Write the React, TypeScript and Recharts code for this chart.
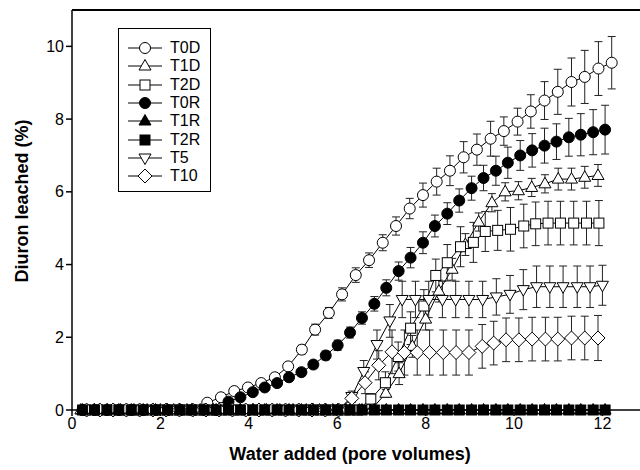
import React from "react";
import {
  LineChart,
  Line,
  XAxis,
  YAxis,
  ErrorBar,
  Legend,
  Label,
  ReferenceLine,
} from "recharts";

const FONT = "'Liberation Sans', Arial, Helvetica, sans-serif";

// pore volumes (x) per column set
const pvT0D = [0.32, 0.62, 0.93, 1.23, 1.54, 1.84, 2.15, 2.45, 2.76, 3.06, 3.37, 3.67, 3.98, 4.28, 4.59, 4.89, 5.2, 5.5, 5.81, 6.11, 6.42, 6.72, 7.03, 7.33, 7.64, 7.94, 8.25, 8.55, 8.86, 9.16, 9.47, 9.77, 10.08, 10.38, 10.69, 10.99, 11.3, 11.6, 11.91, 12.21];
const pvR = [0.24, 0.51, 0.79, 1.06, 1.34, 1.61, 1.89, 2.16, 2.44, 2.71, 2.99, 3.26, 3.54, 3.81, 4.09, 4.36, 4.64, 4.91, 5.19, 5.46, 5.74, 6.01, 6.29, 6.56, 6.84, 7.11, 7.39, 7.66, 7.94, 8.21, 8.49, 8.76, 9.04, 9.31, 9.59, 9.86, 10.14, 10.41, 10.69, 10.96, 11.24, 11.51, 11.79, 12.06];
const pvT1D = [0.2, 0.5, 0.8, 1.1, 1.4, 1.7, 2.0, 2.3, 2.6, 2.9, 3.2, 3.5, 3.8, 4.1, 4.4, 4.7, 5.0, 5.3, 5.6, 5.9, 6.2, 6.5, 6.8, 7.1, 7.4, 7.7, 8.0, 8.3, 8.6, 8.9, 9.2, 9.5, 9.8, 10.1, 10.4, 10.7, 11.0, 11.3, 11.6, 11.9];
const pvT2D = [0.3, 0.58, 0.86, 1.14, 1.42, 1.7, 1.98, 2.26, 2.54, 2.82, 3.1, 3.38, 3.66, 3.94, 4.22, 4.5, 4.78, 5.06, 5.34, 5.62, 5.9, 6.18, 6.46, 6.76, 7.09, 7.38, 7.66, 7.96, 8.23, 8.49, 8.79, 9.08, 9.35, 9.63, 9.92, 10.22, 10.49, 10.77, 11.05, 11.35, 11.64, 11.92];
const pvT5 = [0.33, 0.63, 0.93, 1.23, 1.53, 1.83, 2.13, 2.43, 2.73, 3.03, 3.33, 3.63, 3.93, 4.23, 4.53, 4.83, 5.13, 5.43, 5.73, 6.03, 6.33, 6.6, 6.9, 7.19, 7.47, 7.77, 8.07, 8.38, 8.68, 8.98, 9.29, 9.6, 9.91, 10.21, 10.51, 10.81, 11.11, 11.43, 11.72, 12.0];
const pvT10 = [0.33, 0.63, 0.93, 1.23, 1.53, 1.83, 2.13, 2.43, 2.73, 3.03, 3.33, 3.63, 3.93, 4.23, 4.53, 4.83, 5.13, 5.43, 5.73, 6.03, 6.33, 6.63, 6.94, 7.24, 7.52, 7.81, 8.09, 8.4, 8.69, 8.98, 9.28, 9.54, 9.82, 10.11, 10.41, 10.71, 10.99, 11.3, 11.6, 11.9];

// diuron leached (%) and standard errors
const t0d = [0, 0, 0, 0, 0, 0, 0, 0, 0, 0.2, 0.35, 0.52, 0.62, 0.74, 0.9, 1.2, 1.66, 2.21, 2.67, 3.18, 3.71, 4.12, 4.6, 5.06, 5.54, 5.91, 6.28, 6.58, 6.95, 7.16, 7.46, 7.67, 7.93, 8.21, 8.51, 8.75, 9.02, 9.16, 9.39, 9.55];
const t0dErr = [0, 0, 0, 0, 0, 0, 0, 0, 0, 0.05, 0.05, 0.06, 0.08, 0.08, 0.1, 0.1, 0.12, 0.15, 0.15, 0.18, 0.2, 0.2, 0.22, 0.25, 0.28, 0.33, 0.37, 0.41, 0.43, 0.43, 0.48, 0.39, 0.37, 0.46, 0.52, 0.62, 0.66, 0.73, 0.74, 0.72];

const t1d = [0, 0, 0, 0, 0, 0, 0, 0, 0, 0, 0, 0, 0, 0, 0, 0, 0, 0, 0, 0, 0, 0, 0.05, 0.46, 1.0, 1.75, 2.5, 3.27, 3.87, 4.55, 5.17, 5.7, 6.0, 6.03, 6.12, 6.22, 6.35, 6.35, 6.4, 6.45];
const t1dErr = [0, 0, 0, 0, 0, 0, 0, 0, 0, 0, 0, 0, 0, 0, 0, 0, 0, 0, 0, 0, 0, 0, 0, 0.1, 0.3, 0.3, 0.3, 0.3, 0.3, 0.3, 0.25, 0.25, 0.25, 0.25, 0.25, 0.25, 0.3, 0.3, 0.3, 0.3];

const t2d = [0, 0, 0, 0, 0, 0, 0, 0, 0, 0, 0, 0, 0, 0, 0, 0, 0, 0, 0, 0, 0, 0, 0, 0.3, 0.75, 1.47, 2.25, 2.86, 3.7, 4.05, 4.49, 4.61, 4.91, 4.94, 4.97, 5.06, 5.12, 5.14, 5.14, 5.14, 5.14, 5.14];
const t2dErr = [0, 0, 0, 0, 0, 0, 0, 0, 0, 0, 0, 0, 0, 0, 0, 0, 0, 0, 0, 0, 0, 0, 0, 0.15, 0.3, 0.4, 0.45, 0.45, 0.45, 0.5, 0.55, 0.55, 0.55, 0.55, 0.6, 0.6, 0.6, 0.6, 0.6, 0.6, 0.6, 0.62];

const t0r = [0, 0, 0, 0, 0, 0, 0, 0, 0, 0, 0, 0, 0.23, 0.35, 0.49, 0.62, 0.74, 0.9, 1.04, 1.25, 1.5, 1.78, 2.13, 2.53, 2.92, 3.36, 3.82, 4.19, 4.6, 5.06, 5.4, 5.76, 6.1, 6.38, 6.58, 6.8, 7.0, 7.14, 7.27, 7.38, 7.5, 7.57, 7.64, 7.71];
const t0rErr = [0, 0, 0, 0, 0, 0, 0, 0, 0, 0, 0, 0, 0.04, 0.05, 0.06, 0.07, 0.08, 0.08, 0.1, 0.1, 0.12, 0.14, 0.15, 0.17, 0.2, 0.22, 0.25, 0.28, 0.3, 0.3, 0.3, 0.32, 0.33, 0.35, 0.4, 0.43, 0.41, 0.46, 0.48, 0.49, 0.52, 0.58, 0.62, 0.67];

const t1r = [0, 0, 0, 0, 0, 0, 0, 0, 0, 0, 0, 0, 0, 0, 0, 0, 0, 0, 0, 0, 0, 0, 0, 0, 0, 0, 0, 0, 0, 0, 0, 0, 0, 0, 0, 0, 0, 0, 0, 0, 0, 0, 0, 0];
const t2r = [0, 0, 0, 0, 0, 0, 0, 0, 0, 0, 0, 0, 0, 0, 0, 0, 0, 0, 0, 0, 0, 0, 0, 0, 0, 0, 0, 0, 0, 0, 0, 0, 0, 0, 0, 0, 0, 0, 0, 0, 0, 0, 0, 0];

const t5 = [0, 0, 0, 0, 0, 0, 0, 0, 0, 0, 0, 0, 0, 0, 0, 0, 0, 0, 0, 0, 0.37, 1.06, 1.8, 2.45, 3.04, 3.04, 3.04, 3.04, 3.04, 3.04, 3.04, 3.11, 3.18, 3.31, 3.39, 3.39, 3.39, 3.39, 3.39, 3.43];
const t5Err = [0, 0, 0, 0, 0, 0, 0, 0, 0, 0, 0, 0, 0, 0, 0, 0, 0, 0, 0, 0, 0.15, 0.3, 0.4, 0.45, 0.5, 0.5, 0.5, 0.5, 0.5, 0.5, 0.5, 0.5, 0.52, 0.55, 0.57, 0.57, 0.57, 0.57, 0.57, 0.55];

const t10 = [0, 0, 0, 0, 0, 0, 0, 0, 0, 0, 0, 0, 0, 0, 0, 0, 0, 0, 0, 0, 0.32, 0.75, 1.23, 1.6, 1.58, 1.58, 1.58, 1.58, 1.58, 1.58, 1.75, 1.84, 1.93, 1.93, 1.95, 1.95, 1.95, 1.98, 1.98, 1.98];
const t10Err = [0, 0, 0, 0, 0, 0, 0, 0, 0, 0, 0, 0, 0, 0, 0, 0, 0, 0, 0, 0, 0.1, 0.3, 0.4, 0.6, 0.62, 0.62, 0.62, 0.62, 0.62, 0.62, 0.6, 0.6, 0.6, 0.6, 0.6, 0.6, 0.6, 0.6, 0.6, 0.62];

const xTicks = [0, 2, 4, 6, 8, 10, 12];
const yTicks = [0, 2, 4, 6, 8, 10];

const rows = (xs: number[], ys: number[], es?: number[]) =>
  xs.map((x, i) => ({ x, y: ys[i], e: es ? es[i] : 0 }));

type Kind = "circleOpen" | "triUp" | "squareOpen" | "circle" | "triUpFilled" | "square" | "triDown" | "diamond";

const series: { name: string; kind: Kind; data: { x: number; y: number; e: number }[] }[] = [
  { name: "T0D", kind: "circleOpen", data: rows(pvT0D, t0d, t0dErr) },
  { name: "T1D", kind: "triUp", data: rows(pvT1D, t1d, t1dErr) },
  { name: "T2D", kind: "squareOpen", data: rows(pvT2D, t2d, t2dErr) },
  { name: "T0R", kind: "circle", data: rows(pvR, t0r, t0rErr) },
  { name: "T5", kind: "triDown", data: rows(pvT5, t5, t5Err) },
  { name: "T10", kind: "diamond", data: rows(pvT10, t10, t10Err) },
  { name: "T1R", kind: "triUpFilled", data: rows(pvR, t1r) },
  { name: "T2R", kind: "square", data: rows(pvR, t2r) },
];
const legendOrder = ["T0D", "T1D", "T2D", "T0R", "T1R", "T2R", "T5", "T10"];

function Marker({ kind, cx, cy }: { kind: Kind; cx: number; cy: number }) {
  const open = { fill: "#fff", stroke: "#000", strokeWidth: 1 };
  const solid = { fill: "#000", stroke: "#000", strokeWidth: 1 };
  switch (kind) {
    case "circleOpen":
      return <circle cx={cx} cy={cy} r={5.5} {...open} />;
    case "circle":
      return <circle cx={cx} cy={cy} r={5.5} {...solid} />;
    case "triUp":
    case "triUpFilled":
      return (
        <polygon
          points={`${cx},${cy - 6.5} ${cx - 6},${cy + 4} ${cx + 6},${cy + 4}`}
          {...(kind === "triUp" ? open : solid)}
        />
      );
    case "triDown":
      return <polygon points={`${cx - 6},${cy - 4} ${cx + 6},${cy - 4} ${cx},${cy + 6.5}`} {...open} />;
    case "squareOpen":
      return <rect x={cx - 5} y={cy - 5} width={10} height={10} {...open} />;
    case "square":
      return <rect x={cx - 5} y={cy - 5} width={10} height={10} {...solid} />;
    case "diamond":
      return <polygon points={`${cx},${cy - 7} ${cx + 7},${cy} ${cx},${cy + 7} ${cx - 7},${cy}`} {...open} />;
  }
  return null;
}

function LegendBox() {
  return (
    <div
      style={{
        width: 91,
        height: 162,
        border: "1.5px solid #000",
        background: "#fff",
        fontFamily: FONT,
        fontSize: 16,
        boxSizing: "content-box",
      }}
    >
      {legendOrder.map((name, i) => {
        const s = series.find((d) => d.name === name)!;
        return (
          <div
            key={name}
            style={{ position: "absolute", left: 0, top: 11 + i * 18.3, height: 18, display: "flex", alignItems: "center" }}
          >
            <svg width={50} height={18} style={{ display: "block" }}>
              <line x1={10} y1={9} x2={44} y2={9} stroke="#000" strokeWidth={1} />
              <Marker kind={s.kind} cx={27} cy={9} />
            </svg>
            <span style={{ marginLeft: 2, lineHeight: "18px" }}>{name}</span>
          </div>
        );
      })}
    </div>
  );
}

export default function App() {
  return (
    <div style={{ width: 640, height: 470, background: "#fff" }}>
      <style>{"body{margin:0}"}</style>
      <LineChart width={640} height={470} margin={{ top: 10, right: 0, left: 0, bottom: 0 }}>
        <XAxis
          type="number"
          dataKey="x"
          domain={[0, 12.85]}
          ticks={xTicks}
          height={60}
          tickSize={6}
          stroke="#000"
          strokeWidth={1.5}
          tick={{ fontSize: 16, fill: "#000", fontFamily: FONT }}
        >
          <Label
            content={({ viewBox }: any) => (
              <text
                x={viewBox.x + viewBox.width / 2 - 6}
                y={viewBox.y + 44}
                textAnchor="middle"
                dominantBaseline="central"
                style={{ fontFamily: FONT, fontSize: 18, fontWeight: 700 }}
              >
                Water added (pore volumes)
              </text>
            )}
          />
        </XAxis>
        <YAxis
          type="number"
          domain={[0, 11]}
          ticks={yTicks}
          width={72}
          tickSize={6}
          stroke="#000"
          strokeWidth={1.5}
          tick={{ fontSize: 16, fill: "#000", fontFamily: FONT }}
        >
          <Label
            content={({ viewBox }: any) => {
              const x = viewBox.x + 22;
              const y = viewBox.y + viewBox.height / 2 - 9;
              return (
                <text
                  x={x}
                  y={y}
                  transform={`rotate(-90, ${x}, ${y})`}
                  textAnchor="middle"
                  dominantBaseline="central"
                  style={{ fontFamily: FONT, fontSize: 18, fontWeight: 700 }}
                >
                  Diuron leached (%)
                </text>
              );
            }}
          />
        </YAxis>
        <ReferenceLine y={11} stroke="#000" strokeWidth={2} />
        {series.map((s) => (
          <Line
            key={s.name}
            name={s.name}
            data={s.data}
            dataKey="y"
            type="linear"
            stroke="#000"
            strokeWidth={1}
            isAnimationActive={false}
            activeDot={false}
            dot={(p: any) => <Marker key={`${s.name}-${p.index}`} kind={s.kind} cx={p.cx} cy={p.cy} />}
          >
            <ErrorBar dataKey="e" direction="y" width={4} stroke="#222" strokeWidth={1} isAnimationActive={false} />
          </Line>
        ))}
        <Legend
          layout="vertical"
          align="center"
          verticalAlign="middle"
          content={() => <LegendBox />}
          wrapperStyle={{ left: 118, top: 28, width: 94, height: 165 }}
        />
      </LineChart>
    </div>
  );
}
